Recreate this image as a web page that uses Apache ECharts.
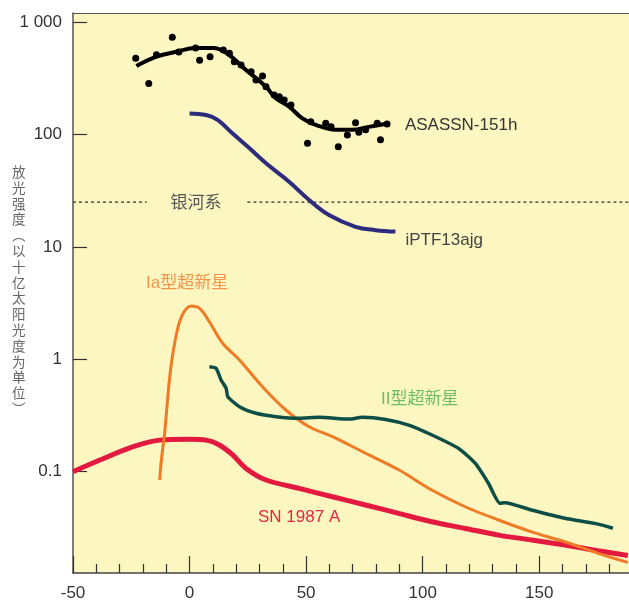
<!DOCTYPE html>
<html>
<head>
<meta charset="utf-8">
<script src="https://cdn.jsdelivr.net/npm/echarts@6/dist/echarts.min.js"></script>
<style>
html,body{margin:0;padding:0;background:#fff;}
#chart{width:629px;height:604px;}
</style>
</head>
<body>
<div id="chart"></div>
<script>
// ---- data ----
const asassnLineX = [-22.8,-14.2,-5.7,2.6,10,15.7,24.2,32.8,37,42.7,48.4,54.1,62.7,69.8,76.9,85.5];
const asassnLineY = [406,492,545,589,589,534,375,266,210,177,139,122,110,110,117,126];
const asassnDotX = [-23.1,-17.5,-14.2,-7.4,-4.6,2.6,4.3,8.8,14.5,17.1,19.2,22.1,26.4,28.5,31.3,32.8,36.3,38.5,40.6,43.5,50.6,52.0,58.4,60.7,63.8,67.7,71.2,72.6,75.5,80.5,81.9,84.7];
const asassnDotY = [476,285,513,732,542,589,457,492,565,528,444,415,362,305,332,266,225,217,203,183,83.5,130,126,117,77.9,99,127,105,110,126,89.8,124];
const iptfX = [0,7.1,12,18.5,25.6,32.8,42.7,51.3,59.8,71.2,79.8,88.3];
const iptfY = [154,149,135,102,75.8,55.4,38,26.1,19.2,15.1,14.1,13.7];
const iaX = [-12.8,-12.1,-10.7,-8.5,-6.4,-3.5,0.7,4.3,8.5,14.2,21.4,31.3,41.3,51.3,61.3,75.5,89.7,103.9,118.2,132.5,146.7,160.9,175.2,188];
const iaY = [0.0844,0.127,0.22,0.70,1.39,2.39,2.98,2.84,2.16,1.39,0.986,0.570,0.354,0.251,0.205,0.146,0.104,0.0687,0.0488,0.0372,0.0292,0.0238,0.0188,0.0156];
const iiX = [8.5,11.4,13.5,15.7,16.4,21.4,28.5,37.1,47.0,55.6,68.4,74.1,84.1,94.0,104.0,115.4,122.5,128.2,133.2,135.3,146.7,161.0,175.2,181.6];
const iiY = [0.859,0.832,0.655,0.552,0.465,0.379,0.331,0.309,0.299,0.305,0.294,0.305,0.292,0.260,0.212,0.161,0.119,0.0789,0.0523,0.0530,0.0456,0.0385,0.0342,0.0314];
const snX = [-50,-38.5,-24.2,-12.8,0,7.1,12.8,18.5,24.2,32.8,47.0,61.3,75.5,89.7,103.9,118.2,132.5,146.7,160.9,175.2,188];
const snY = [0.100,0.127,0.167,0.191,0.194,0.191,0.173,0.141,0.107,0.0844,0.0711,0.0599,0.0506,0.0426,0.0359,0.0313,0.0273,0.0247,0.0223,0.0198,0.0180];
const galaxyLevel = 25;
const galaxyLeftX = [-50,-18.4];
const galaxyRightX = [24.8,189];
const xMajorTicks = [-50,0,50,100,150];
const xMinorTicks = [-40,-30,-20,-10,10,20,30,40,60,70,80,90,110,120,130,140,160,170,180];
const yTicks = [0.1,1,10,100,1000];
const yTitle = ['放','光','强','度','︵','以','十','亿','太','阳','光','度','为','单','位','︶'];

const zip = (xs, ys) => xs.map((x, i) => [x, ys[i]]);
const FONT = '"Liberation Sans", Arial, "Noto Sans CJK SC", sans-serif';

const chart = echarts.init(document.getElementById('chart'), null, {renderer: 'canvas'});
const xBase = {type: 'value', min: -50, max: 188.5, gridIndex: 0};
chart.setOption({
  animation: false,
  backgroundColor: '#ffffff',
  grid: {left: 73, top: 13, right: -2, bottom: 31, show: true, backgroundColor: '#fcf6c1', borderWidth: 0},
  xAxis: [
    Object.assign({}, xBase, {
      position: 'bottom',
      axisLine: {show: true, onZero: false, lineStyle: {color: '#444', width: 1.5}},
      axisTick: {show: true, inside: true, length: 17, customValues: xMajorTicks, lineStyle: {color: '#333', width: 1.2}},
      axisLabel: {show: true, customValues: xMajorTicks, margin: 12, color: '#333', fontSize: 17, fontFamily: FONT},
      splitLine: {show: false}
    }),
    Object.assign({}, xBase, {
      position: 'bottom',
      axisLine: {show: false, onZero: false},
      axisTick: {show: true, inside: true, length: 9, customValues: xMinorTicks, lineStyle: {color: '#333', width: 1.2}},
      axisLabel: {show: false},
      splitLine: {show: false}
    }),
    Object.assign({}, xBase, {
      position: 'top',
      axisLine: {show: true, onZero: false, lineStyle: {color: '#555', width: 1.2}},
      axisTick: {show: false},
      axisLabel: {show: false},
      splitLine: {show: false}
    })
  ],
  yAxis: {
    type: 'log', logBase: 10, min: 0.01256, max: 1205,
    axisLine: {show: true, onZero: false, lineStyle: {color: '#555', width: 1.5}},
    axisTick: {show: true, inside: true, length: 14, customValues: yTicks, lineStyle: {color: '#333', width: 1.2}},
    axisLabel: {show: true, customValues: yTicks, margin: 11, color: '#333', fontSize: 17, fontFamily: FONT,
      formatter: v => (v >= 1000 ? '1 000' : String(v))},
    splitLine: {show: false}
  },
  series: [
    {type: 'line', name: 'galaxyL', data: zip(galaxyLeftX, [galaxyLevel, galaxyLevel]), symbol: 'none',
      lineStyle: {color: '#333', width: 1.2, type: [3, 3]}},
    {type: 'line', name: 'galaxyR', data: zip(galaxyRightX, [galaxyLevel, galaxyLevel]), symbol: 'none',
      lineStyle: {color: '#333', width: 1.2, type: [3, 3]}},
    {type: 'line', name: 'SN 1987 A', data: zip(snX, snY), symbol: 'none', smooth: 0.3,
      lineStyle: {color: '#e3193f', width: 5}},
    {type: 'line', name: 'Ia', data: zip(iaX, iaY), symbol: 'none', smooth: 0.35,
      lineStyle: {color: '#f07a25', width: 3}},
    {type: 'line', name: 'II', data: zip(iiX, iiY), symbol: 'none', smooth: 0.2,
      lineStyle: {color: '#0d4e46', width: 3.5}},
    {type: 'line', name: 'iPTF13ajg', data: zip(iptfX, iptfY), symbol: 'none', smooth: 0.4,
      lineStyle: {color: '#2d2b7c', width: 4},
      endLabel: {show: true, formatter: 'iPTF13ajg', color: '#444', fontSize: 17, fontFamily: FONT, offset: [2, 9]}},
    {type: 'line', name: 'ASASSN-151h', data: zip(asassnLineX, asassnLineY), symbol: 'none', smooth: 0.4,
      lineStyle: {color: '#000', width: 4},
      endLabel: {show: true, formatter: 'ASASSN-151h', color: '#333', fontSize: 17, fontFamily: FONT, offset: [8, 2]}},
    {type: 'scatter', name: 'ASASSN dots', data: zip(asassnDotX, asassnDotY), symbol: 'circle', symbolSize: 7,
      itemStyle: {color: '#000', opacity: 1}}
  ],
  graphic: [
    {type: 'text', left: 12, top: 164, style: {text: yTitle.join('\n'), font: '13.5px "Noto Sans CJK SC"', fill: '#666', lineHeight: 15.8, align: 'center'}},
    {type: 'text', x: 196, y: 202, style: {text: '银河系', font: '17px "Noto Sans CJK SC"', fill: '#555', align: 'center', verticalAlign: 'middle'}},
    {type: 'text', x: 146, y: 283, style: {text: 'Ia型超新星', font: '17px ' + FONT, fill: '#f2944a', align: 'left', verticalAlign: 'middle'}},
    {type: 'text', x: 381, y: 399, style: {text: 'II型超新星', font: '17px ' + FONT, fill: '#6dbd69', align: 'left', verticalAlign: 'middle'}},
    {type: 'text', x: 258, y: 517, style: {text: 'SN 1987 A', font: '17px ' + FONT, fill: '#e0283f', align: 'left', verticalAlign: 'middle'}}
  ]
});
</script>
</body>
</html>
